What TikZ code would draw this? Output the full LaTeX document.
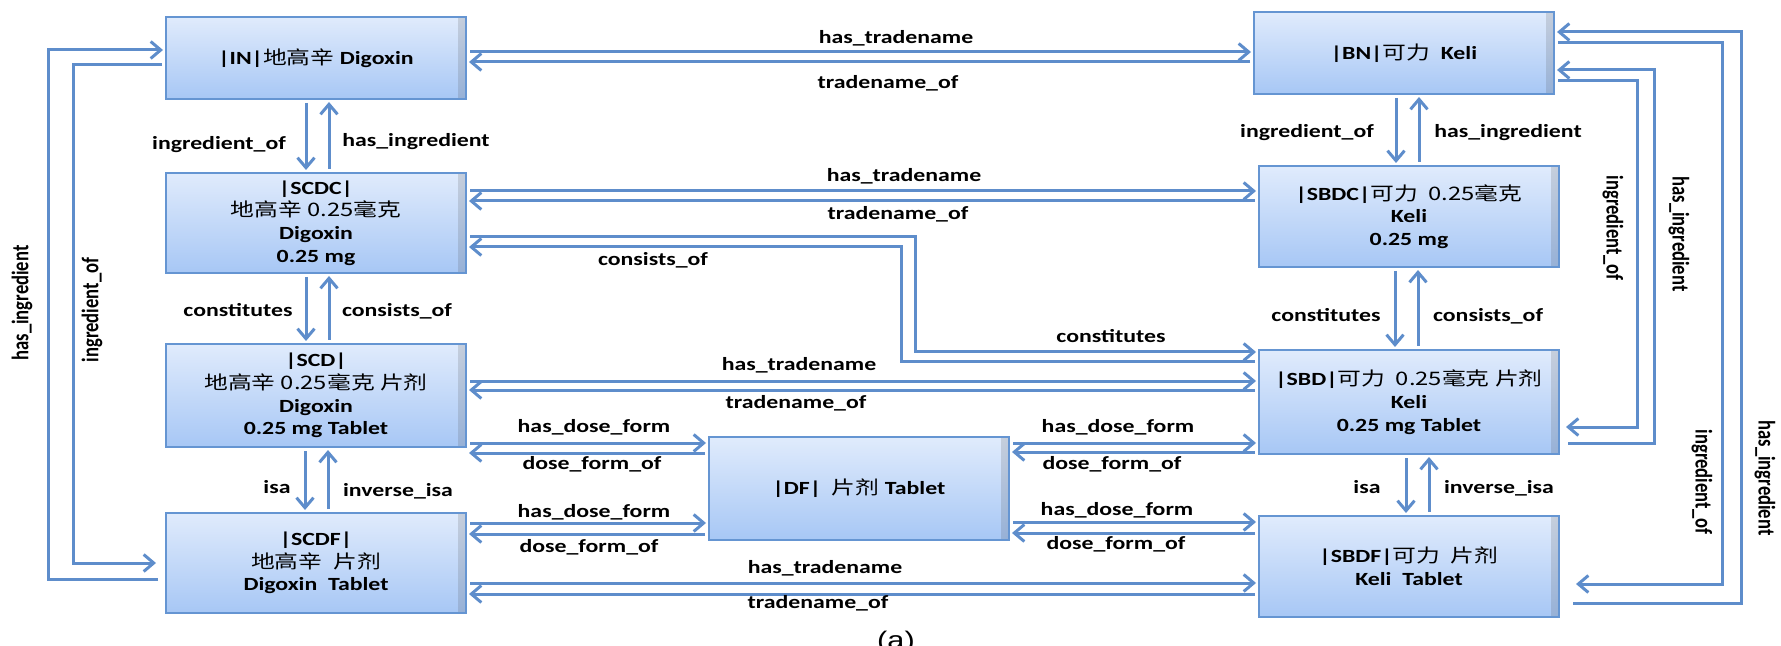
\documentclass[tikz,border=0pt]{standalone}
\usepackage{fontspec}
\setmainfont{Carlito}[FakeStretch=1.28]
\newfontfamily\cjk{Noto Sans CJK SC}[FakeStretch=1.28]
\newfontfamily\upfont{Carlito}
\newfontfamily\capfont{Liberation Sans}[FakeStretch=1.28]
\usetikzlibrary{arrows.meta,fadings}
\newcommand\zh[1]{{\cjk\mdseries #1}}
\definecolor{relblue}{RGB}{94,141,203}
\definecolor{boxline}{RGB}{101,149,210}
\definecolor{boxtop}{RGB}{224,235,252}
\definecolor{boxbot}{RGB}{167,199,245}
\tikzfading[name=edge shade, left color=transparent!100, right color=transparent!40]
\tikzset{
    BOX/.style ={rectangle, draw=boxline, line width=1pt, top color=boxtop, bottom color=boxbot,
        minimum width=150pt, minimum height=#1, inner sep=0pt, align=center,
        font=\fontsize{9.3pt}{11.35pt}\selectfont\bfseries,
        path picture={\fill[black!70, fill opacity=0.3, path fading=edge shade]
            ([xshift=-4pt]path picture bounding box.north east) rectangle (path picture bounding box.south east);}},
    REL/.style ={draw=relblue, line width=1.5pt, shorten <=1.5pt, shorten >=1pt,
        -{Straight Barb[length=5pt,width=8.5pt]}},
    LAB/.style ={font=\fontsize{9.3pt}{11pt}\selectfont\bfseries, inner sep=0pt, text height=0.7em, text depth=0.05em},
    VLAB/.style ={font=\fontsize{9.3pt}{11pt}\upfont\bfseries, inner sep=0pt, text height=0.7em, text depth=0.05em}}
\begin{document}
\begin{tikzpicture}[x=0.5pt,y=-0.5pt]
        \useasboundingbox (0,0) rectangle (1781,646);
        % boxes
        \node[BOX=41pt] (IN) at (316,58) {|IN|\zh{地高辛} Digoxin};
        \node[BOX=50pt] (SCDC) at (316,223) {|SCDC|\\ \zh{地高辛 0.25毫克}\\ Digoxin\\ 0.25 mg};
        \node[BOX=51.5pt] (SCD) at (316,395.5) {|SCD|\\ \zh{地高辛 0.25毫克 片剂}\\ Digoxin\\ 0.25 mg Tablet};
        \node[BOX=50pt] (SCDF) at (316,563) {|SCDF|\\ \zh{地高辛\ \ 片剂}\\ Digoxin\ \ Tablet};
        \node[BOX=51.5pt] (DF) at (859,488.5) {|DF|\ \ \zh{片剂} Tablet};
        \node[BOX=41pt] (BN) at (1404,53) {|BN|\zh{可力}\ \ Keli};
        \node[BOX=50.5pt] (SBDC) at (1409,216.5) {|SBDC|\zh{可力\ \ 0.25毫克}\\ Keli\\ 0.25 mg};
        \node[BOX=52pt] (SBD) at (1409,402) {|SBD|\zh{可力\ \ 0.25毫克 片剂}\\ Keli\\ 0.25 mg Tablet};
        \node[BOX=50.5pt] (SBDF) at (1409,566.5) {|SBDF|\zh{可力\ \ 片剂}\\ Keli\ \ Tablet};
        % tradename rows
        \draw[REL] (IN.east |- 0,52) -- (BN.west |- 0,52);
        \draw[REL] (BN.west |- 0,62) -- (IN.east |- 0,62);
        \node[LAB] (t1) at (896,37) {has\_tradename};
        \node[LAB] (t2) at (888,82) {tradename\_of};
        \draw[REL] (SCDC.east |- 0,191) -- (SBDC.west |- 0,191);
        \draw[REL] (SBDC.west |- 0,201) -- (SCDC.east |- 0,201);
        \node[LAB] (t3) at (904,175) {has\_tradename};
        \node[LAB] (t4) at (898,213) {tradename\_of};
        \draw[REL] (SCD.east |- 0,381) -- (SBD.west |- 0,381);
        \draw[REL] (SBD.west |- 0,390) -- (SCD.east |- 0,390);
        \node[LAB] (t5) at (799,364) {has\_tradename};
        \node[LAB] (t6) at (796,402) {tradename\_of};
        \draw[REL] (SCDF.east |- 0,583) -- (SBDF.west |- 0,583);
        \draw[REL] (SBDF.west |- 0,594) -- (SCDF.east |- 0,594);
        \node[LAB] (t7) at (825,567) {has\_tradename};
        \node[LAB] (t8) at (818,602) {tradename\_of};
        % SCDC <-> SBD
        \draw[REL] (SCDC.east |- 0,237) -| (915,352) -- (SBD.west |- 0,352);
        \draw[REL] (SBD.west |- 0,362) -| (901,247) -- (SCDC.east |- 0,247);
        \node[LAB] (c1) at (1111,336) {constitutes};
        \node[LAB] (c2) at (653,259) {consists\_of};
        % dose form
        \draw[REL] (SCD.east |- 0,443) -- (DF.west |- 0,443);
        \draw[REL] (DF.west |- 0,453) -- (SCD.east |- 0,453);
        \node[LAB] (d1) at (594,426) {has\_dose\_form};
        \node[LAB] (d2) at (592,463) {dose\_form\_of};
        \draw[REL] (SCDF.east |- 0,523) -- (DF.west |- 0,523);
        \draw[REL] (DF.west |- 0,534) -- (SCDF.east |- 0,534);
        \node[LAB] (d3) at (594,511) {has\_dose\_form};
        \node[LAB] (d4) at (589,546) {dose\_form\_of};
        \draw[REL] (DF.east |- 0,443) -- (SBD.west |- 0,443);
        \draw[REL] (SBD.west |- 0,452) -- (DF.east |- 0,452);
        \node[LAB] (d5) at (1118,426) {has\_dose\_form};
        \node[LAB] (d6) at (1112,463) {dose\_form\_of};
        \draw[REL] (DF.east |- 0,522) -- (SBDF.west |- 0,522);
        \draw[REL] (SBDF.west |- 0,533) -- (DF.east |- 0,533);
        \node[LAB] (d7) at (1117,509) {has\_dose\_form};
        \node[LAB] (d8) at (1116,543) {dose\_form\_of};
        % left column
        \draw[REL] (IN.south -| 306,0) -- (SCDC.north -| 306,0);
        \draw[REL] (SCDC.north -| 329,0) -- (IN.south -| 329,0);
        \node[LAB] (v1) at (219,143) {ingredient\_of};
        \node[LAB] (v2) at (416,140) {has\_ingredient};
        \draw[REL] (SCDC.south -| 306,0) -- (SCD.north -| 306,0);
        \draw[REL] (SCD.north -| 329,0) -- (SCDC.south -| 329,0);
        \node[LAB] (v3) at (238,310) {constitutes};
        \node[LAB] (v4) at (397,310) {consists\_of};
        \draw[REL] (SCD.south -| 305,0) -- (SCDF.north -| 305,0);
        \draw[REL] (SCDF.north -| 328,0) -- (SCD.south -| 328,0);
        \node[LAB] (v5) at (277,487) {isa};
        \node[LAB] (v6) at (398,490) {inverse\_isa};
        % right column
        \draw[REL] (BN.south -| 1396,0) -- (SBDC.north -| 1396,0);
        \draw[REL] (SBDC.north -| 1419,0) -- (BN.south -| 1419,0);
        \node[LAB] (w1) at (1307,131) {ingredient\_of};
        \node[LAB] (w2) at (1508,131) {has\_ingredient};
        \draw[REL] (SBDC.south -| 1395,0) -- (SBD.north -| 1395,0);
        \draw[REL] (SBD.north -| 1418,0) -- (SBDC.south -| 1418,0);
        \node[LAB] (w3) at (1326,315) {constitutes};
        \node[LAB] (w4) at (1488,315) {consists\_of};
        \draw[REL] (SBD.south -| 1406,0) -- (SBDF.north -| 1406,0);
        \draw[REL] (SBDF.north -| 1429,0) -- (SBD.south -| 1429,0);
        \node[LAB] (w5) at (1367,487) {isa};
        \node[LAB] (w6) at (1499,487) {inverse\_isa};
        % outer loops, left
        \draw[REL, shorten <=3.5pt] (SCDF.west |- 0,579) -| (48,50) -- (IN.west |- 0,50);
        \draw[REL, shorten >=4.5pt] (IN.west |- 0,65) -| (73,563) -- (SCDF.west |- 0,563);
        \node[VLAB, xscale=1.28, rotate=90] (o1) at (20,303) {has\_ingredient};
        \node[VLAB, xscale=1.28, rotate=90] (o2) at (90,310) {ingredient\_of};
        % outer loops, right
        \draw[REL, shorten <=6.5pt] (SBDF.east |- 0,603) -| (1741,32) -- (BN.east |- 0,32);
        \draw[REL, shorten >=8pt] (BN.east |- 0,43) -| (1722,584) -- (SBDF.east |- 0,584);
        \draw[REL, shorten <=4pt] (SBD.east |- 0,443) -| (1654,70) -- (BN.east |- 0,70);
        \draw[REL, shorten >=3pt] (BN.east |- 0,81) -| (1637,427) -- (SBD.east |- 0,427);
        \node[VLAB, xscale=1.28, rotate=-90] (o3) at (1615,228) {ingredient\_of};
        \node[VLAB, xscale=1.28, rotate=-90] (o4) at (1681,234) {has\_ingredient};
        \node[VLAB, xscale=1.28, rotate=-90] (o5) at (1704,482) {ingredient\_of};
        \node[VLAB, xscale=1.28, rotate=-90] (o6) at (1767,478) {has\_ingredient};
        % caption
        \node[font=\fontsize{12pt}{14pt}\capfont, anchor=base, inner sep=0pt] (cap) at (896,648) {(a)};
\end{tikzpicture}
\end{document}
